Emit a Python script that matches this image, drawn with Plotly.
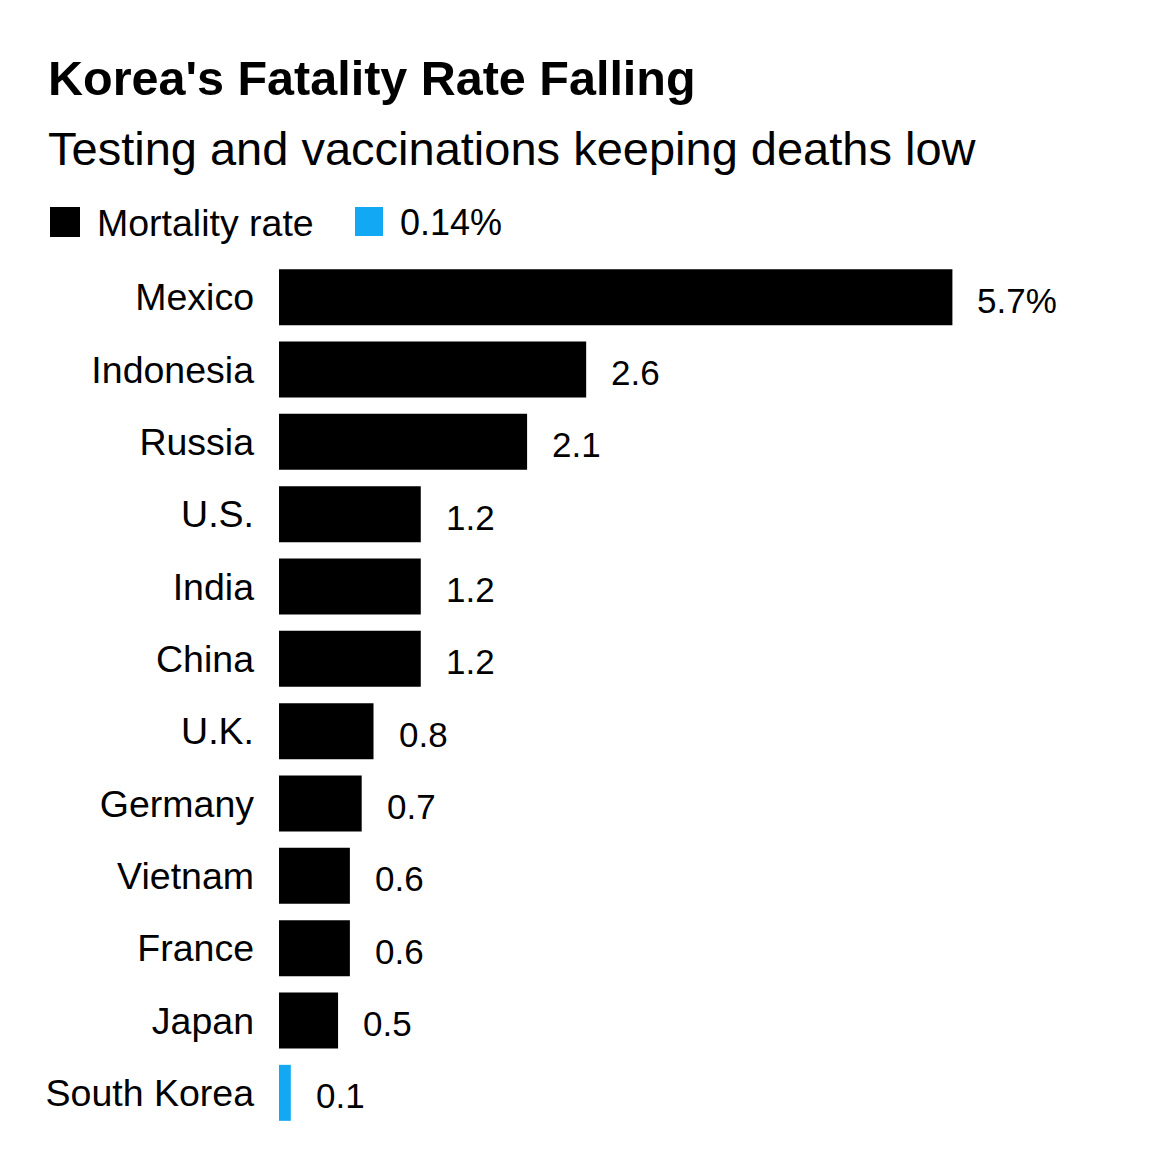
import plotly.graph_objects as go

countries = ["Mexico", "Indonesia", "Russia", "U.S.", "India", "China", "U.K.",
             "Germany", "Vietnam", "France", "Japan", "South Korea"]
rates = [5.7, 2.6, 2.1, 1.2, 1.2, 1.2, 0.8, 0.7, 0.6, 0.6, 0.5, 0.1]
value_labels = ["5.7%", "2.6", "2.1", "1.2", "1.2", "1.2", "0.8", "0.7", "0.6", "0.6", "0.5", "0.1"]
highlight = "South Korea"
legend_labels = ["Mortality rate", "0.14%"]

BLACK = "#000000"
BLUE = "#12A8F4"
FONT = "Liberation Sans"

colors = [BLUE if c == highlight else BLACK for c in countries]

fig = go.Figure()
fig.add_trace(go.Bar(
    x=rates, y=countries, orientation="h",
    marker=dict(color=colors, line=dict(width=0)),
    showlegend=False, hoverinfo="x+y",
))

annotations = []
for c, v, t in zip(countries, rates, value_labels):
    annotations.append(dict(
        x=v, y=c, xref="x", yref="y", text=t, showarrow=False,
        xanchor="left", yanchor="middle", xshift=23, yshift=-3,
        font=dict(family=FONT, size=35, color="#000000"),
    ))

# plot area geometry (pixels) used for paper coordinates
L, R, T, B = 279, 64, 261, 43
W, H = 1170, 1172
pw, ph = W - L - R, H - T - B

def px(x):
    return (x - L) / pw

def py(y):
    return (H - B - y) / ph

annotations.append(dict(
    x=px(46), y=py(78), xref="paper", yref="paper", text="<b>Korea's Fatality Rate Falling</b>",
    showarrow=False, xanchor="left", yanchor="middle",
    font=dict(family=FONT, size=48.5, color="#000000"),
))
annotations.append(dict(
    x=px(46), y=py(149), xref="paper", yref="paper", text="Testing and vaccinations keeping deaths low",
    showarrow=False, xanchor="left", yanchor="middle",
    font=dict(family=FONT, size=47, color="#000000"),
))
annotations.append(dict(
    x=px(95), y=py(223), xref="paper", yref="paper", text=legend_labels[0],
    showarrow=False, xanchor="left", yanchor="middle",
    font=dict(family=FONT, size=37.5, color="#000000"),
))
annotations.append(dict(
    x=px(398), y=py(223), xref="paper", yref="paper", text=legend_labels[1],
    showarrow=False, xanchor="left", yanchor="middle",
    font=dict(family=FONT, size=36, color="#000000"),
))

shapes = [
    dict(type="rect", xref="paper", yref="paper", x0=px(50), x1=px(80), y0=py(237), y1=py(207),
         fillcolor=BLACK, line=dict(width=0)),
    dict(type="rect", xref="paper", yref="paper", x0=px(355), x1=px(383), y0=py(236), y1=py(207),
         fillcolor=BLUE, line=dict(width=0)),
]

fig.update_layout(
    width=W, height=H,
    margin=dict(l=L, r=R, t=T, b=B, pad=0),
    paper_bgcolor="white", plot_bgcolor="white",
    bargap=0.226,
    annotations=annotations,
    shapes=shapes,
    font=dict(family=FONT, color="#000000"),
    xaxis=dict(range=[0, 7], visible=False, fixedrange=True),
    yaxis=dict(autorange="reversed", showgrid=False, zeroline=False, showline=False,
               ticks="", ticklabelstandoff=24,
               tickfont=dict(family=FONT, size=37.5, color="#000000")),
)

fig.write_html("out.html")
